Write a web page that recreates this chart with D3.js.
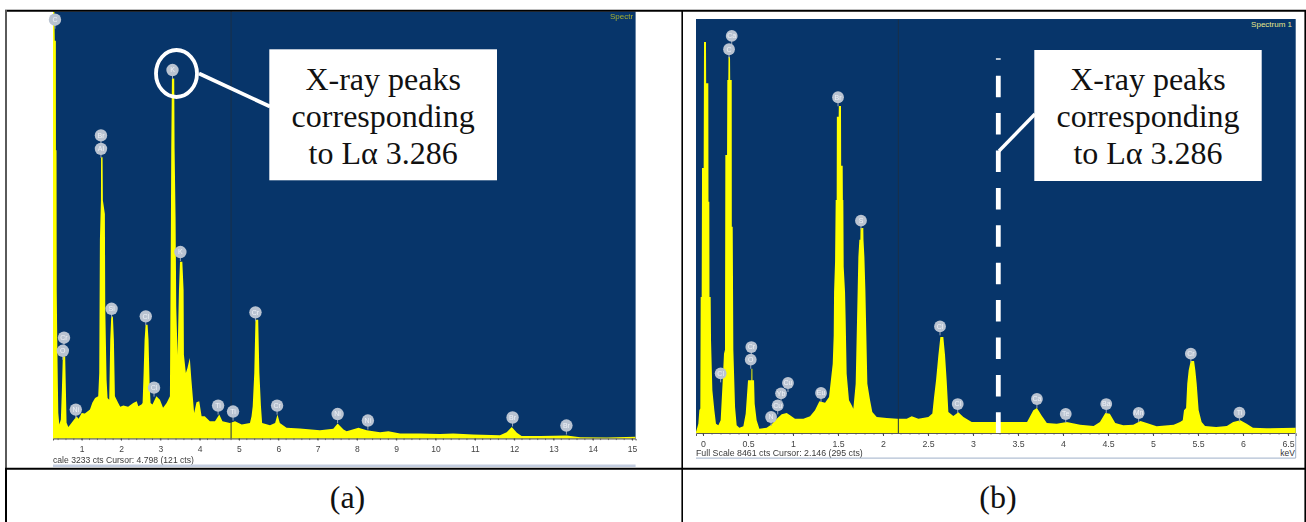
<!DOCTYPE html>
<html><head><meta charset="utf-8">
<script src="https://cdnjs.cloudflare.com/ajax/libs/d3/7.8.5/d3.min.js"></script>
<style>html,body{margin:0;padding:0;background:#fff;overflow:hidden}svg{display:block}</style>
</head><body><svg id="c" width="1306" height="522"></svg>
<script>
// ---- Spectrum (a): [keV, counts] ----
const spectrumA=[[0.27,3233],[0.305,3233],[0.315,3012],[0.343,3012],[0.345,2182],[0.36,2182],[0.365,1125],[0.378,748],[0.394,400],[0.405,194],[0.43,106],[0.47,143],[0.496,370],[0.52,622],[0.58,622],[0.598,370],[0.615,120],[0.66,88],[0.72,110],[0.87,169],[0.92,150],[1.0,194],[1.08,190],[1.21,219],[1.27,270],[1.34,307],[1.42,320],[1.446,496],[1.463,1502],[1.489,1804],[1.493,2129],[1.531,2129],[1.539,1804],[1.59,1700],[1.599,999],[1.633,445],[1.658,307],[1.70,294],[1.726,748],[1.751,924],[1.794,924],[1.819,748],[1.845,320],[1.93,269],[1.98,240],[2.06,249],[2.18,240],[2.31,269],[2.40,282],[2.44,244],[2.52,257],[2.549,269],[2.575,496],[2.60,748],[2.625,861],[2.676,861],[2.70,748],[2.727,420],[2.752,269],[2.80,257],[2.90,320],[2.99,294],[3.07,232],[3.16,269],[3.244,320],[3.270,1676],[3.278,2197],[3.295,2725],[3.354,2725],[3.363,2197],[3.388,1676],[3.405,1000],[3.439,634],[3.474,1125],[3.50,1339],[3.56,1339],[3.592,1125],[3.60,634],[3.65,496],[3.69,534],[3.75,609],[3.79,446],[3.86,194],[3.92,274],[3.99,282],[4.05,169],[4.13,169],[4.26,131],[4.39,131],[4.50,181],[4.58,131],[4.77,118],[4.90,131],[5.07,106],[5.28,118],[5.32,169],[5.35,244],[5.39,496],[5.42,899],[5.49,899],[5.52,496],[5.56,244],[5.59,118],[5.79,101],[5.92,118],[5.98,181],[6.04,118],[6.21,81],[6.55,76],[7.06,63],[7.40,73],[7.51,113],[7.66,68],[7.74,55],[8.04,81],[8.25,63],[8.59,48],[8.80,55],[9.10,38],[9.61,38],[10.11,35],[10.45,38],[10.96,30],[11.64,25],[11.81,48],[11.94,88],[12.07,43],[12.19,18],[12.66,18],[13.34,23],[13.68,10],[14.36,8],[15.09,13]];
const pinKeVA=[0.32,3.31,1.49,1.49,3.51,1.76,2.63,5.42,0.55,0.52,2.84,0.85,4.47,4.85,5.97,7.51,8.28,11.96,13.33];
const pinCtsA=[3171,2790,2295,2193,1412,982,925,955,763,664,385,219,249,204,249,185,136,159,98];
const pinLabA=["C","K","Br","Al","K","Si","Cl","Cr","Cr","O","Cl","Ni","Ti","Ti","Cr","Ni","Ni","Br","Br"];
const ticksA=[1,2,3,4,5,6,7,8,9,10,11,12,13,14,15];
const cursorA=4.80;
const statusA="cale 3233 cts Cursor: 4.798  (121 cts)";

// ---- Spectrum (b): [keV, counts] ----
const spectrumB=[[-0.078,20],[-0.052,191],[-0.041,463],[-0.030,500],[-0.026,2778],[-0.015,2778],[-0.011,5416],[0.007,5416],[0.011,7992],[0.033,7992],[0.035,7148],[0.059,7148],[0.061,4728],[0.070,4728],[0.072,2778],[0.085,2778],[0.089,1893],[0.104,872],[0.126,463],[0.144,191],[0.170,157],[0.196,259],[0.219,1076],[0.233,1621],[0.244,1700],[0.248,5682],[0.267,5682],[0.270,7215],[0.281,7215],[0.283,7692],[0.300,7692],[0.302,7215],[0.319,7215],[0.320,4217],[0.330,4217],[0.337,1700],[0.356,531],[0.374,157],[0.404,109],[0.448,136],[0.474,395],[0.500,1076],[0.511,1076],[0.537,1076],[0.538,1314],[0.548,1314],[0.549,1076],[0.567,1076],[0.574,599],[0.596,259],[0.626,89],[0.707,109],[0.763,177],[0.819,293],[0.874,381],[0.930,409],[0.967,361],[1.022,293],[1.115,293],[1.189,340],[1.244,463],[1.293,647],[1.356,620],[1.400,735],[1.441,1416],[1.452,2000],[1.456,2881],[1.467,3500],[1.474,4763],[1.485,4763],[1.487,6465],[1.507,6465],[1.509,6684],[1.533,6684],[1.535,5463],[1.552,5463],[1.554,4763],[1.559,4763],[1.563,3400],[1.578,2881],[1.585,2302],[1.596,1212],[1.622,667],[1.652,565],[1.670,497],[1.696,1008],[1.719,2983],[1.726,3596],[1.737,3950],[1.748,3950],[1.750,4190],[1.781,4190],[1.783,3950],[1.793,3596],[1.804,2915],[1.826,1008],[1.856,667],[1.881,429],[1.930,327],[2.041,306],[2.159,293],[2.263,293],[2.319,340],[2.393,293],[2.504,327],[2.548,400],[2.567,735],[2.589,1076],[2.615,1587],[2.637,1961],[2.670,1961],[2.689,1587],[2.707,1076],[2.726,429],[2.781,347],[2.837,422],[2.893,327],[2.985,225],[3.30,225],[3.60,225],[3.63,327],[3.67,463],[3.71,511],[3.76,361],[3.82,204],[3.93,191],[4.04,225],[4.19,170],[4.34,143],[4.41,225],[4.47,409],[4.52,395],[4.58,204],[4.67,157],[4.78,170],[4.86,245],[4.93,204],[5.04,136],[5.23,170],[5.30,225],[5.33,259],[5.344,463],[5.367,510],[5.38,1008],[5.396,1280],[5.418,1471],[5.456,1471],[5.47,1280],[5.485,1008],[5.507,463],[5.54,225],[5.578,143],[5.70,123],[5.82,143],[5.89,225],[5.97,259],[6.04,191],[6.11,109],[6.26,95],[6.59,109]];
const pinKeVB=[0.319,0.289,1.50,1.755,0.196,0.537,0.530,0.756,0.830,0.867,0.944,1.311,2.633,2.83,3.71,4.03,4.48,4.84,5.42,5.96];
const pinCtsB=[8115,7843,6862,4340,1219,1757,1498,327,565,810,1022,817,2179,592,695,388,592,409,1621,415];
const pinLabB=["Ca","C","Br","S","Cl","Cr","O","N","Cu","Yb","Cu","Eu","Cl","Cl","Ca","Te","Ba","Mn","Cr","Ti"];
const ticksB=[0,0.5,1,1.5,2,2.5,3,3.5,4,4.5,5,5.5,6,6.5];
const cursorB=2.17;
const statusB="Full Scale 8461 cts Cursor: 2.146  (295 cts)";

// ---- Annotation text ----
const calloutLines=["X-ray peaks","corresponding","to L\u03b1 3.286"];
const captions=["(a)","(b)"];

const NAVY="#07356a",YEL="#ffff00";
const svg=d3.select("#c");
const defs=svg.append("defs");
[["blurA",0.6],["blurB",0.3]].forEach(([id,s])=>{
  defs.append("filter").attr("id",id).attr("x","-5%").attr("y","-5%").attr("width","110%").attr("height","110%")
    .attr("color-interpolation-filters","sRGB")
    .append("feGaussianBlur").attr("stdDeviation",s);
});

function spectrum(o){
  const x=d3.scaleLinear().domain(o.xDom).range([o.x0,o.x1]);
  const y=d3.scaleLinear().domain([0,o.full]).range([o.base,o.top]);
  const cid="clip"+o.id;
  defs.append("clipPath").attr("id",cid).append("rect").attr("x",o.x0).attr("y",o.top).attr("width",o.x1-o.x0).attr("height",o.base-o.top+1);
  const g=svg.append("g").attr("filter","url(#"+o.blur+")");
  g.append("rect").attr("x",o.x0).attr("y",o.top).attr("width",o.x1-o.x0).attr("height",o.base-o.top).attr("fill",NAVY);
  g.append("path").datum(o.data).attr("clip-path","url(#"+cid+")").attr("fill",YEL)
    .attr("d",d3.area().x(d=>x(d[0])).y0(o.base).y1(d=>y(d[1])).curve(d3.curveLinear));
  g.append("line").attr("x1",x(o.cursor)).attr("x2",x(o.cursor)).attr("y1",o.top).attr("y2",o.base).attr("stroke","#1a3048").attr("stroke-width",1);
  const ax=g.append("g").attr("transform","translate(0,"+o.base+")")
    .call(d3.axisBottom(x).tickValues(o.ticks).tickSize(o.ts).tickPadding(o.pad).tickFormat(d=>d));
  ax.select(".domain").attr("stroke","#5a5a5a").attr("stroke-width",1);
  ax.selectAll(".tick line").attr("stroke","#444");
  ax.selectAll("text").attr("font-family","Liberation Sans").attr("font-size",o.tf).attr("fill","#444");
  const minor=d3.range(Math.ceil(o.xDom[0]/o.minor),Math.floor(o.xDom[1]/o.minor)+1).map(k=>k*o.minor);
  g.append("g").selectAll("line").data(minor).join("line")
    .attr("x1",d=>x(d)).attr("x2",d=>x(d)).attr("y1",o.base).attr("y2",o.base+1.6).attr("stroke","#555").attr("stroke-width",0.8);
  const pins=g.append("g").selectAll("g").data(d3.zip(o.pinK,o.pinC,o.pinL)).join("g")
    .attr("transform",d=>`translate(${x(d[0])},${y(d[1])})`);
  pins.append("line").attr("y1",0).attr("y2",9).attr("stroke","#9aa7b8").attr("stroke-width",1);
  pins.append("circle").attr("r",o.pr).attr("fill","#b9c3d1");
  pins.append("text").text(d=>d[2]).attr("text-anchor","middle").attr("y",2.4).attr("font-family","Liberation Sans").attr("font-size",7).attr("fill","#eef1f6");
  g.append("text").text(o.status).attr("x",o.x0).attr("y",o.statusY).attr("font-family","Liberation Sans").attr("font-size",o.sf).attr("fill","#3a3a3a");
  g.append("rect").attr("x",o.x0).attr("y",o.barY).attr("width",o.x1-o.x0).attr("height",o.barH).attr("fill",o.barC);
}
spectrum({id:"A",blur:"blurA",x0:53,x1:635.6,top:11.5,base:438.5,xDom:[0.27,15.09],full:3233,data:spectrumA,
  cursor:cursorA,ticks:ticksA,ts:2,pad:5,tf:8.5,minor:0.2,pr:6.2,pinK:pinKeVA,pinC:pinCtsA,pinL:pinLabA,status:statusA,statusY:463,sf:8.6,barY:464.5,barH:2.5,barC:"#c3cde0"});
spectrum({id:"B",blur:"blurB",x0:696,x1:1295.7,top:19,base:433,xDom:[-0.078,6.585],full:8461,data:spectrumB,
  cursor:cursorB,ticks:ticksB,ts:3,pad:5,tf:8.8,minor:0.1,pr:5.9,pinK:pinKeVB,pinC:pinCtsB,pinL:pinLabB,status:statusB,statusY:456,sf:8.8,barY:457.6,barH:1,barC:"#9fb0c8"});
svg.append("text").text("keV").attr("x",1295).attr("y",456).attr("text-anchor","end").attr("font-family","Liberation Sans").attr("font-size",8.5).attr("fill","#333");
svg.append("line").attr("x1",1295.7).attr("x2",1295.7).attr("y1",433).attr("y2",458).attr("stroke","#9fb0c8");
svg.append("text").text("Spectrum 1").attr("x",1292).attr("y",27).attr("text-anchor","end").attr("font-family","Liberation Sans").attr("font-size",8).attr("fill","#e6e88a");
svg.append("g").attr("filter","url(#blurA)").append("text").text("Spectr").attr("x",610).attr("y",19).attr("font-family","Liberation Sans").attr("font-size",8).attr("fill","#a8b030");

// annotation (a)
svg.append("ellipse").attr("cx",176.5).attr("cy",73.5).attr("rx",20.5).attr("ry",23.5).attr("fill","none").attr("stroke","#fff").attr("stroke-width",3.8);
svg.append("line").attr("x1",199).attr("y1",73.5).attr("x2",270).attr("y2",106.5).attr("stroke","#fff").attr("stroke-width",3.8);
// annotation (b)
const mx=998.3;
svg.append("line").attr("x1",mx).attr("x2",mx).attr("y1",75.7).attr("y2",433).attr("stroke","#fff").attr("stroke-width",4.8).attr("stroke-dasharray","21.5 15.9");
svg.append("line").attr("x1",mx-2.4).attr("x2",mx+2.4).attr("y1",59).attr("y2",59).attr("stroke","#fff").attr("stroke-width",1.4);
svg.append("line").attr("x1",999).attr("y1",151).attr("x2",1035).attr("y2",114).attr("stroke","#fff").attr("stroke-width",3.4);

// callouts
[[269.3,497,49.3],[1034.3,1261.7,50]].forEach(([l,r,t])=>{
  svg.append("rect").attr("x",l).attr("y",t).attr("width",r-l).attr("height",131).attr("fill","#fff");
  svg.append("g").selectAll("text").data(calloutLines).join("text").text(d=>d)
    .attr("x",(l+r)/2).attr("y",(d,i)=>90+i*36.8).attr("text-anchor","middle")
    .attr("font-family","Liberation Serif").attr("font-size",32).attr("fill","#111");
});
// captions
svg.selectAll(".cap").data(captions).join("text").attr("class","cap").text(d=>d)
  .attr("x",(d,i)=>[347.5,998][i]).attr("y",508).attr("text-anchor","middle")
  .attr("font-family","Liberation Serif").attr("font-size",32).attr("fill","#111");

// table rules
const rule=(x1,y1,x2,y2,c,w)=>svg.append("line").attr("x1",x1).attr("y1",y1).attr("x2",x2).attr("y2",y2).attr("stroke",c).attr("stroke-width",w);
rule(5,10.8,1306,10.8,"#000",2);
rule(6,10,6,468,"#5a5a5a",2);
rule(6,468,6,522,"#000",2);
rule(682.2,10,682.2,522,"#000",1.6);
rule(1305.2,10,1305.2,522,"#000",1.6);
rule(5,468.8,1306,468.8,"#000",2);
</script></body></html>
